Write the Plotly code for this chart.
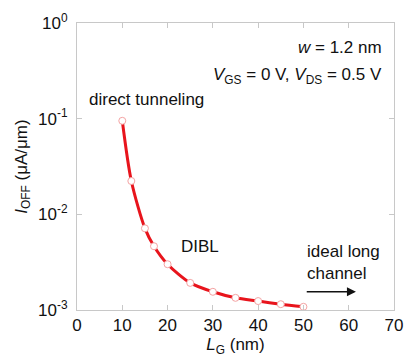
import plotly.graph_objects as go

L_G = [10, 12, 15, 17, 20, 25, 30, 35, 40, 45, 50]
I_OFF = [0.095, 0.0223, 0.00714, 0.00464, 0.00301, 0.00192, 0.00155, 0.00134, 0.00124, 0.00115, 0.00108]

x_ticks = [0, 10, 20, 30, 40, 50, 60, 70]
y_tickvals = [1e-3, 1e-2, 1e-1, 1]
y_ticktext = ["10<sup>-3</sup>", "10<sup>-2</sup>", "10<sup>-1</sup>", "10<sup>0</sup>"]

font_family = "Liberation Sans, Arial, sans-serif"

fig = go.Figure()
fig.add_trace(go.Scatter(
    x=L_G, y=I_OFF, mode="lines+markers",
    line=dict(color="#e8141c", width=3, shape="spline", smoothing=0.8),
    marker=dict(symbol="circle", size=7, color="white",
                line=dict(color="#f4a3a3", width=1)),
    showlegend=False,
))

axis_common = dict(
    showline=True, linecolor="#c8c8c8", linewidth=1, mirror="ticks",
    ticks="inside", tickcolor="#c8c8c8", ticklen=5, showgrid=False, zeroline=False,
    color="#111",
)

fig.update_layout(
    width=414, height=360,
    margin=dict(l=77, r=11, t=22, b=45),
    paper_bgcolor="white", plot_bgcolor="white",
    font=dict(family=font_family, color="#111"),
    xaxis=dict(range=[0, 70], tickvals=x_ticks,
               tickfont=dict(size=17, color="#111", family=font_family),
               title=dict(text="<i>L</i><sub>G</sub> (nm)", font=dict(size=17), standoff=2),
               **axis_common),
    yaxis=dict(type="log", range=[-3, 0], tickvals=y_tickvals, ticktext=y_ticktext,
               tickfont=dict(size=17, color="#111", family=font_family),
               ticklabelstandoff=5,
               title=dict(text="<i>I</i><sub>OFF</sub> (μA/μm)", font=dict(size=17), standoff=6),
               **axis_common),
    annotations=[
        dict(x=0.97, y=0.915, xref="paper", yref="paper", xanchor="right", yanchor="middle",
             text="<i>w</i> = 1.2 nm", showarrow=False, font=dict(size=17)),
        dict(x=0.97, y=0.815, xref="paper", yref="paper", xanchor="right", yanchor="middle",
             text="<i>V</i><sub>GS</sub> = 0 V, <i>V</i><sub>DS</sub> = 0.5 V", showarrow=False,
             font=dict(size=17)),
        dict(x=2.2, y=-0.8, xref="x", yref="y", xanchor="left", yanchor="middle",
             text="direct tunneling", showarrow=False, font=dict(size=17)),
        dict(x=22.5, y=-2.34, xref="x", yref="y", xanchor="left", yanchor="middle",
             text="DIBL", showarrow=False, font=dict(size=17)),
        dict(x=50.4, y=-2.5, xref="x", yref="y", xanchor="left", yanchor="middle", align="left",
             text="ideal long<br>channel", showarrow=False, font=dict(size=17)),
        dict(x=61.6, y=-2.81, ax=50.4, ay=-2.81, xref="x", yref="y", axref="x", ayref="y",
             text="", showarrow=True, arrowhead=2, arrowsize=1.2, arrowwidth=1.5, arrowcolor="#111"),
    ],
)

fig.write_html("out.html")
